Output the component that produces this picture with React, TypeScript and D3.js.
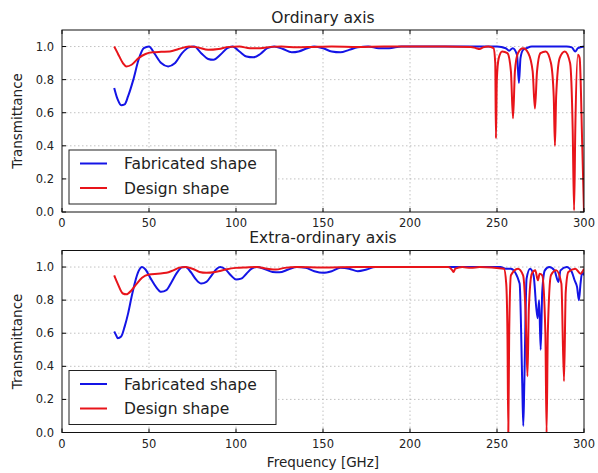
import React from 'react';
import * as d3 from 'd3';

// [frequency GHz, transmittance]
const ordinaryFabricated: [number, number][] = [
  [30, 0.75], [32, 0.68], [34, 0.645], [36, 0.65], [38, 0.7], [41, 0.8], [44, 0.92], [47, 0.99],
  [50, 1.0], [53, 0.96], [57, 0.9], [61, 0.88], [65, 0.9], [69, 0.96], [73, 0.995], [76, 1.0],
  [80, 0.96], [84, 0.925], [87, 0.92], [91, 0.95], [95, 0.99], [98, 1.0], [102, 0.97], [106, 0.94],
  [110, 0.935], [114, 0.955], [118, 0.99], [122, 1.0], [127, 0.985], [132, 0.965], [136, 0.97],
  [141, 0.99], [145, 1.0], [150, 0.99], [155, 0.97], [160, 0.965], [165, 0.98], [170, 0.995],
  [176, 1.0], [182, 0.99], [188, 0.99], [195, 1.0], [210, 1.0], [250, 1.0], [255, 0.99],
  [257, 0.975], [259, 0.99], [261.5, 0.95], [262.6, 0.78], [263.5, 0.93], [265, 0.98], [267, 0.99],
  [270, 1.0], [290, 1.0], [293, 0.995], [295, 0.97], [296.5, 0.99], [300, 1.0],
];

const ordinaryDesign: [number, number][] = [
  [30, 1.0], [32, 0.96], [35, 0.9], [37, 0.88], [40, 0.89], [44, 0.93], [48, 0.955], [52, 0.965],
  [57, 0.968], [62, 0.97], [67, 0.985], [73, 1.0], [78, 0.995], [84, 0.98], [90, 0.985], [96, 0.998],
  [102, 1.0], [108, 0.99], [114, 0.99], [120, 0.998], [126, 1.0], [135, 0.995], [145, 0.998],
  [155, 1.0], [170, 0.998], [185, 1.0], [200, 1.0], [220, 1.0], [235, 0.998], [238, 0.99],
  [240, 0.985], [242, 0.995], [245, 1.0], [248, 0.99], [249, 0.9], [249.4, 0.445], [249.9, 0.8],
  [251, 0.93], [253, 0.97], [256, 0.96], [258, 0.85], [259.2, 0.566], [260.3, 0.85], [262, 0.96],
  [265, 0.99], [268, 0.96], [270.5, 0.85], [271.8, 0.625], [273, 0.85], [275, 0.96], [278, 0.97],
  [281, 0.9], [282.6, 0.7], [283.3, 0.4], [284, 0.7], [286, 0.93], [289, 0.97], [292, 0.9],
  [293.5, 0.5], [294.3, 0.01], [295, 0.5], [296.5, 0.95], [297.5, 0.93], [299, 0.4], [300, 0.0],
];

const extraFabricated: [number, number][] = [
  [30, 0.61], [31, 0.59], [32, 0.57], [34, 0.58], [36, 0.64], [38, 0.72], [40, 0.82], [42, 0.91],
  [44, 0.975], [46, 1.0], [48, 0.985], [51, 0.93], [54, 0.88], [57, 0.85], [60, 0.86], [63, 0.91],
  [66, 0.965], [69, 0.998], [71, 1.0], [74, 0.97], [77, 0.925], [80, 0.9], [83, 0.91], [86, 0.95],
  [89, 0.99], [91, 1.0], [94, 0.985], [97, 0.95], [100, 0.925], [103, 0.93], [106, 0.96], [109, 0.99],
  [112, 1.0], [116, 0.99], [121, 0.97], [125, 0.968], [130, 0.985], [135, 1.0], [140, 0.995],
  [145, 0.975], [150, 0.965], [155, 0.975], [160, 0.995], [165, 0.99], [170, 0.975], [175, 0.985],
  [180, 1.0], [200, 1.0], [252, 1.0], [255, 0.99], [258, 0.99], [263, 0.9], [264.5, 0.3],
  [265.1, 0.04], [265.7, 0.3], [267, 0.93], [269, 0.99], [271, 0.95], [273.3, 0.69], [274.2, 0.8],
  [275.1, 0.5], [276, 0.85], [277.5, 0.98], [280, 1.0], [283, 0.98], [285.3, 0.91], [286.5, 0.98],
  [290, 1.0], [293, 0.97], [294.6, 0.92], [296, 0.88], [297.1, 0.8], [298, 0.9], [299, 0.97], [300, 0.95],
];

const extraDesign: [number, number][] = [
  [30, 0.95], [32, 0.9], [35, 0.84], [37, 0.835], [40, 0.86], [43, 0.9], [46, 0.935], [50, 0.955],
  [55, 0.96], [60, 0.965], [64, 0.98], [68, 0.998], [71, 1.0], [75, 0.99], [79, 0.97], [83, 0.965],
  [88, 0.97], [94, 0.985], [100, 0.995], [106, 0.998], [112, 1.0], [118, 0.99], [123, 0.985],
  [128, 0.995], [135, 1.0], [150, 0.998], [170, 1.0], [200, 1.0], [222, 1.0], [224, 0.985],
  [225, 0.97], [226, 0.99], [230, 1.0], [235, 0.995], [240, 1.0], [254, 0.99], [255.3, 0.9],
  [256, 0.6], [256.5, 0.0], [257, 0.6], [258, 0.95], [262, 0.99], [265, 0.95], [266.5, 0.7],
  [267.5, 0.34], [268.3, 0.75], [270, 0.96], [272, 0.98], [273.5, 0.92], [274.5, 0.96], [276, 0.95],
  [277.8, 0.6], [278.5, 0.0], [279.2, 0.6], [281, 0.95], [284, 0.98], [287, 0.9], [288.5, 0.31],
  [289.5, 0.85], [291, 0.97], [295, 0.99], [298, 0.96], [300, 0.99],
];

const xTicks = [0, 50, 100, 150, 200, 250, 300];
const yTicks = [0, 0.2, 0.4, 0.6, 0.8, 1.0];
const seriesNames = ['Fabricated shape', 'Design shape'];

const BLUE = '#1414e6';
const RED = '#e8141a';
const FONT = '"DejaVu Sans", sans-serif';

const left = 62;
const right = 584;
const plotH = 182;

const x = d3.scaleLinear().domain([0, 300]).range([left, right]);

function Panel({ top, title, fab, des, id }: { top: number; title: string; fab: [number, number][]; des: [number, number][]; id: string }) {
  const y = d3.scaleLinear().domain([0, 1.1]).range([top + plotH, top]);
  const line = d3.line<[number, number]>()
    .x(d => x(d[0]))
    .y(d => y(d[1]))
    .curve(d3.curveMonotoneX);
  const bottom = top + plotH;
  const legX = 69, legY = bottom - 62;

  return (
    <g>
      <defs>
        <clipPath id={id}>
          <rect x={left} y={top} width={right - left} height={plotH} />
        </clipPath>
      </defs>
      <rect x={left} y={top} width={right - left} height={plotH} fill="#fff" />
      {/* grid */}
      {xTicks.slice(1, -1).map(t => (
        <line key={'gx' + t} x1={x(t)} x2={x(t)} y1={top} y2={bottom} stroke="#a8a8a8" strokeWidth={0.7} strokeDasharray="1.5,2.5" />
      ))}
      {yTicks.slice(1).map(t => (
        <line key={'gy' + t} x1={left} x2={right} y1={y(t)} y2={y(t)} stroke="#a8a8a8" strokeWidth={0.7} strokeDasharray="1.5,2.5" />
      ))}
      <g clipPath={`url(#${id})`}>
        <path d={line(fab) || ''} fill="none" stroke={BLUE} strokeWidth={2} />
        <path d={line(des) || ''} fill="none" stroke={RED} strokeWidth={2} />
      </g>
      {/* ticks, inward on all sides */}
      {xTicks.map(t => (
        <g key={'tx' + t}>
          <line x1={x(t)} x2={x(t)} y1={bottom} y2={bottom - 4} stroke="#000" />
          <line x1={x(t)} x2={x(t)} y1={top} y2={top + 4} stroke="#000" />
          <text x={x(t)} y={bottom + 15} textAnchor="middle" fontSize={11.5} fill="#222">{t}</text>
        </g>
      ))}
      {yTicks.map(t => (
        <g key={'ty' + t}>
          <line x1={left} x2={left + 4} y1={y(t)} y2={y(t)} stroke="#000" />
          <line x1={right} x2={right - 4} y1={y(t)} y2={y(t)} stroke="#000" />
          <text x={left - 8} y={y(t) + 4} textAnchor="end" fontSize={11.5} fill="#222">{t.toFixed(1)}</text>
        </g>
      ))}
      <rect x={left} y={top} width={right - left} height={plotH} fill="none" stroke="#111" strokeWidth={1} />
      <text x={(left + right) / 2} y={top - 7.5} textAnchor="middle" fontSize={15.5} fill="#222">{title}</text>
      <text transform={`translate(22,${top + plotH / 2}) rotate(-90)`} textAnchor="middle" fontSize={13.5} fill="#222">Transmittance</text>
      {/* legend */}
      <rect x={legX} y={legY} width={207} height={54} fill="#fff" stroke="#222" strokeWidth={1} />
      {[BLUE, RED].map((c, i) => (
        <g key={c}>
          <line x1={80} x2={107} y1={legY + 13.5 + i * 24.5} y2={legY + 13.5 + i * 24.5} stroke={c} strokeWidth={2} />
          <text x={124} y={legY + 19 + i * 24.5} fontSize={15.5} fill="#222">{seriesNames[i]}</text>
        </g>
      ))}
    </g>
  );
}

export default function App() {
  return (
    <svg width={598} height={473} style={{ position: 'absolute', left: 0, top: 0, fontFamily: FONT, background: '#fff' }}>
      <rect width={598} height={473} fill="#fff" />
      <Panel id="c1" top={30} title="Ordinary axis" fab={ordinaryFabricated} des={ordinaryDesign} />
      <Panel id="c2" top={250.5} title="Extra-ordinary axis" fab={extraFabricated} des={extraDesign} />
      <text x={(left + right) / 2} y={467} textAnchor="middle" fontSize={13.5} fill="#222">Frequency [GHz]</text>
    </svg>
  );
}
